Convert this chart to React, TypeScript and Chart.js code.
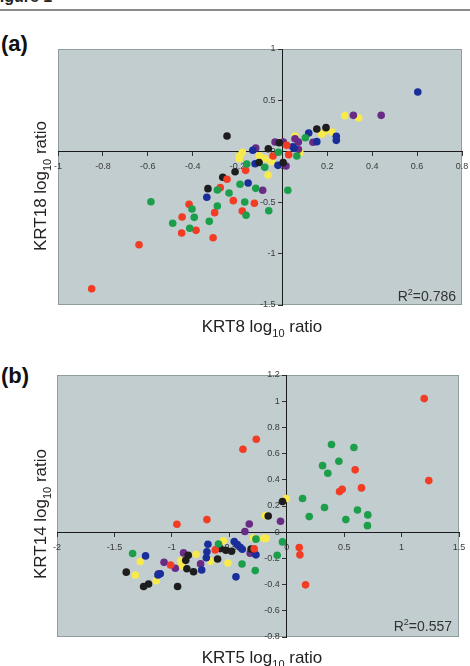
import React, { useEffect, useRef } from 'react';
import { Chart, registerables } from 'chart.js';

Chart.register(...registerables);

const FONT = '"Liberation Sans", Arial, Helvetica, sans-serif';

const COLORS = {
  red: '#f23c24',
  green: '#1c9e4b',
  yellow: '#f8e94c',
  black: '#1d1d1d',
  purple: '#6a2b87',
  blue: '#1a2e9a',
};

// ---------- Panel (a): KRT8 vs KRT18 ----------
const aXTicks = [-1, -0.8, -0.6, -0.4, -0.2, 0, 0.2, 0.4, 0.6, 0.8];
const aYTicks = [-1.5, -1, -0.5, 0, 0.5, 1];

const aRed = [
  [0.019, 0.06], [-0.042, -0.045], [0.028, -0.032], [-0.164, -0.185], [-0.247, -0.272],
  [-0.277, -0.354], [-0.219, -0.481], [-0.125, -0.507], [-0.179, -0.582], [-0.416, -0.517],
  [-0.302, -0.598], [-0.447, -0.641], [-0.385, -0.771], [-0.449, -0.797], [-0.309, -0.843],
  [-0.639, -0.911], [-0.85, -1.341],
];
const aGreen = [
  [0.102, 0.134], [-0.018, -0.009], [0.064, -0.045], [-0.079, -0.155], [-0.159, -0.123],
  [-0.29, -0.377], [-0.238, -0.406], [-0.189, -0.321], [-0.119, -0.361], [0.024, -0.38],
  [-0.168, -0.494], [-0.162, -0.624], [-0.061, -0.579], [-0.586, -0.491], [-0.403, -0.562],
  [-0.29, -0.533], [-0.393, -0.644], [-0.489, -0.702], [-0.326, -0.683], [-0.413, -0.751],
];
const aBlack = [
  [-0.247, 0.15], [0.153, 0.219], [0.194, 0.232], [-0.014, 0.085], [-0.063, 0.026],
  [-0.104, -0.108], [0.003, -0.11], [-0.211, -0.198], [-0.266, -0.253], [-0.332, -0.364],
];
const aBlue = [
  [0.603, 0.58], [0.117, 0.18], [0.24, 0.147], [0.24, 0.108], [0.153, 0.095],
  [0.046, 0.046], [0.052, 0.03], [-0.132, 0.011], [-0.122, -0.12], [-0.02, -0.136],
  [-0.153, -0.309], [-0.337, -0.448],
];
const aPurple = [
  [0.316, 0.352], [0.44, 0.352], [0.136, 0.089], [0.056, 0.124], [0.071, 0.092],
  [-0.033, 0.092], [0.004, 0.092], [0.071, 0.02], [-0.119, 0.033], [0.016, -0.143],
  [-0.088, -0.38],
];
const aYellow = [
  [0.278, 0.349], [0.34, 0.326], [0.19, 0.196], [0.221, 0.19], [0.175, 0.167],
  [0.056, 0.15], [0.078, -0.013], [-0.179, -0.009], [-0.192, -0.071], [-0.103, -0.042],
  [-0.078, -0.071], [-0.048, -0.1], [-0.064, -0.23], [-0.19, -0.04],
];

// ---------- Panel (b): KRT5 vs KRT14 ----------
const bXTicks = [-2, -1.5, -1, -0.5, 0, 0.5, 1, 1.5];
const bYTicks = [-0.8, -0.6, -0.4, -0.2, 0, 0.2, 0.4, 0.6, 0.8, 1, 1.2];

const bRed = [
  [1.197, 1.02], [1.237, 0.394], [-0.381, 0.633], [-0.265, 0.71], [0.596, 0.476],
  [0.46, 0.31], [0.483, 0.328], [0.651, 0.338], [-0.956, 0.061], [-0.695, 0.096],
  [0.109, -0.117], [0.115, -0.173], [0.164, -0.402], [-0.283, -0.127], [-0.622, -0.135],
  [-1.011, -0.25],
];
const bGreen = [
  [0.39, 0.669], [0.585, 0.646], [0.312, 0.508], [0.454, 0.542], [0.358, 0.45],
  [0.138, 0.257], [0.329, 0.188], [0.616, 0.17], [0.196, 0.119], [0.706, 0.132],
  [0.515, 0.096], [0.703, 0.05], [-0.268, -0.053], [-0.037, -0.074], [-0.083, -0.176],
  [-0.389, -0.243], [-0.274, -0.293], [-0.594, -0.09], [-1.342, -0.163],
];
const bBlack = [
  [-0.037, 0.234], [-0.161, 0.124], [-0.31, -0.128], [-0.48, -0.145], [-0.579, -0.125],
  [-0.53, -0.138], [-0.602, -0.205], [-0.811, -0.302], [-0.869, -0.279], [-0.879, -0.215],
  [-0.857, -0.176], [-0.95, -0.415], [-1.203, -0.395], [-1.246, -0.415], [-1.397, -0.305],
];
const bBlue = [
  [-0.442, -0.341], [-0.268, -0.173], [-0.457, -0.071], [-0.43, -0.095], [-0.405, -0.115],
  [-0.387, -0.13], [-0.686, -0.092], [-0.695, -0.15], [-0.7, -0.195], [-0.74, -0.288],
  [-1.101, -0.318], [-1.121, -0.326], [-1.229, -0.181],
];
const bPurple = [
  [-0.326, 0.063], [-0.364, 0.005], [-0.054, 0.084], [-0.318, -0.16], [-0.75, -0.242],
  [-0.898, -0.158], [-0.97, -0.275], [-1.068, -0.23], [-1.116, -0.318],
];
const bYellow = [
  [-0.004, 0.257], [-0.187, 0.128], [-0.29, -0.045], [-0.2, -0.047], [-0.178, -0.047],
  [-0.512, -0.235], [-0.552, -0.065], [-0.662, -0.222], [-0.789, -0.168], [-0.921, -0.219],
  [-0.918, -0.255], [-1.136, -0.371], [-1.318, -0.328], [-1.275, -0.224],
];

type Part = { t: string; k?: 'sub' | 'sup' };

function drawRich(ctx: CanvasRenderingContext2D, parts: Part[], size: number, x: number, y: number, align: 'center' | 'right') {
  const fontOf = (p: Part) => `${p.k ? Math.round(size * 0.64) : size}px ${FONT}`;
  const widths = parts.map((p) => {
    ctx.font = fontOf(p);
    return ctx.measureText(p.t).width;
  });
  const total = widths.reduce((a, b) => a + b, 0);
  let cx = align === 'center' ? x - total / 2 : x - total;
  parts.forEach((p, i) => {
    ctx.font = fontOf(p);
    const dy = p.k === 'sub' ? size * 0.3 : p.k === 'sup' ? -size * 0.4 : 0;
    ctx.fillText(p.t, cx, y + dy);
    cx += widths[i];
  });
}

const Y_LABEL_GAP = 7;
const X_LABEL_DROP = 5;

const plotFrame = {
  id: 'plotFrame',
  beforeDraw(chart: any) {
    const { ctx, chartArea } = chart;
    const { left, top, right, bottom } = chartArea;
    ctx.save();
    ctx.fillStyle = '#c2cdd0';
    ctx.fillRect(left, top, right - left, bottom - top);
    ctx.strokeStyle = '#8f9d9f';
    ctx.lineWidth = 1;
    ctx.strokeRect(left + 0.5, top + 0.5, right - left - 1, bottom - top - 1);
    ctx.restore();
    // move tick labels away from the crossing axis lines
    const shift = (sc: any, dx: number, dy: number) => {
      if (!sc || !sc.getLabelItems) return;
      sc.getLabelItems().forEach((it: any) => {
        if (!it.__shifted) {
          it.options.translation[0] += dx;
          it.options.translation[1] += dy;
          it.__shifted = true;
        }
      });
    };
    shift(chart.scales.y, -Y_LABEL_GAP, 0);
    shift(chart.scales.x, 0, X_LABEL_DROP);
  },
  afterDraw(chart: any, _args: any, opts: any) {
    const { ctx } = chart;
    ctx.save();
    ctx.fillStyle = '#222';
    ctx.textBaseline = 'alphabetic';
    ctx.textAlign = 'left';
    drawRich(ctx, opts.xTitle, 17, opts.xTitlePos[0], opts.xTitlePos[1], 'center');
    ctx.save();
    ctx.translate(opts.yTitlePos[0], opts.yTitlePos[1]);
    ctx.rotate(-Math.PI / 2);
    drawRich(ctx, opts.yTitle, 17, 0, 0, 'center');
    ctx.restore();
    ctx.fillStyle = '#333';
    drawRich(ctx, opts.r2, 14, opts.r2Pos[0], opts.r2Pos[1], 'right');
    ctx.restore();
  },
};

const series = (pts: number[][], color: string, label: string) => ({
  label,
  data: pts.map(([x, y]) => ({ x, y })),
  backgroundColor: color,
  borderWidth: 0,
  pointRadius: 3.8,
  pointHoverRadius: 3.8,
});

function axis(ticks: number[], cross: { [k: string]: number }, pad: number) {
  return {
    type: 'linear' as const,
    min: ticks[0],
    max: ticks[ticks.length - 1],
    position: cross,
    afterBuildTicks: (sc: any) => {
      sc.ticks = ticks.map((v) => ({ value: v }));
    },
    grid: { drawOnChartArea: false, drawTicks: true, tickLength: 4, color: '#333', lineWidth: 1 },
    border: { display: true, color: '#1a1a1a', width: 1 },
    ticks: {
      autoSkip: false,
      maxRotation: 0,
      padding: pad,
      color: '#3a3a3a',
      font: { family: FONT, size: 9 },
      callback: (v: any) => String(v),
    },
  };
}

type PanelProps = {
  top: number;
  height: number;
  padding: { left: number; right: number; top: number; bottom: number };
  xTicks: number[];
  yTicks: number[];
  data: [number[][], string, string][];
  frame: any;
};

function Panel({ top, height, padding, xTicks, yTicks, data, frame }: PanelProps) {
  const ref = useRef<HTMLCanvasElement>(null);
  useEffect(() => {
    if (!ref.current) return;
    const chart = new Chart(ref.current, {
      type: 'scatter',
      data: { datasets: data.map(([p, c, l]) => series(p, c, l)) },
      options: {
        animation: false,
        responsive: false,
        maintainAspectRatio: false,
        layout: { padding },
        plugins: {
          legend: { display: false },
          tooltip: { enabled: false },
          plotFrame: frame,
        } as any,
        scales: {
          x: axis(xTicks, { y: 0 }, 1),
          y: axis(yTicks, { x: 0 }, 1),
        } as any,
      },
      plugins: [plotFrame],
    });
    return () => chart.destroy();
  }, []);
  return (
    <canvas
      ref={ref}
      width={470}
      height={height}
      style={{ position: 'absolute', left: 0, top, width: 470, height }}
    />
  );
}

export default function App() {
  return (
    <div style={{ position: 'absolute', left: 0, top: 0, width: 470, height: 666, overflow: 'hidden', background: '#fff', fontFamily: FONT }}>
      <div style={{ position: 'absolute', left: -10, top: -11, font: `bold 16px/16px ${FONT}`, color: '#222', whiteSpace: 'nowrap' }}>Figure 1</div>
      <div style={{ position: 'absolute', left: 0, top: 9, width: 470, height: 2, background: '#8a8a8a' }} />
      <div style={{ position: 'absolute', left: 1, top: 33, font: `bold 22px/22px ${FONT}`, color: '#111' }}>(a)</div>
      <div style={{ position: 'absolute', left: 1, top: 365, font: `bold 22px/22px ${FONT}`, color: '#111' }}>(b)</div>
      <Panel
        top={30}
        height={315}
        padding={{ left: 58, right: 8, top: 19, bottom: 40 }}
        xTicks={aXTicks}
        yTicks={aYTicks}
        data={[
          [aGreen, COLORS.green, 'Green'],
          [aRed, COLORS.red, 'Red'],
          [aBlack, COLORS.black, 'Black'],
          [aBlue, COLORS.blue, 'Blue'],
          [aPurple, COLORS.purple, 'Purple'],
          [aYellow, COLORS.yellow, 'Yellow'],
        ]}
        frame={{
          xTitle: [{ t: 'KRT8 log' }, { t: '10', k: 'sub' }, { t: ' ratio' }],
          xTitlePos: [262, 302],
          yTitle: [{ t: 'KRT18 log' }, { t: '10', k: 'sub' }, { t: ' ratio' }],
          yTitlePos: [46, 156],
          r2: [{ t: 'R' }, { t: '2', k: 'sup' }, { t: '=0.786' }],
          r2Pos: [456, 270.7],
        }}
      />
      <Panel
        top={355}
        height={311}
        padding={{ left: 57, right: 11, top: 20, bottom: 29 }}
        xTicks={bXTicks}
        yTicks={bYTicks}
        data={[
          [bGreen, COLORS.green, 'Green'],
          [bRed, COLORS.red, 'Red'],
          [bBlack, COLORS.black, 'Black'],
          [bBlue, COLORS.blue, 'Blue'],
          [bPurple, COLORS.purple, 'Purple'],
          [bYellow, COLORS.yellow, 'Yellow'],
        ]}
        frame={{
          xTitle: [{ t: 'KRT5 log' }, { t: '10', k: 'sub' }, { t: ' ratio' }],
          xTitlePos: [262, 308],
          yTitle: [{ t: 'KRT14 log' }, { t: '10', k: 'sub' }, { t: ' ratio' }],
          yTitlePos: [46, 159],
          r2: [{ t: 'R' }, { t: '2', k: 'sup' }, { t: '=0.557' }],
          r2Pos: [452, 275.7],
        }}
      />
    </div>
  );
}
